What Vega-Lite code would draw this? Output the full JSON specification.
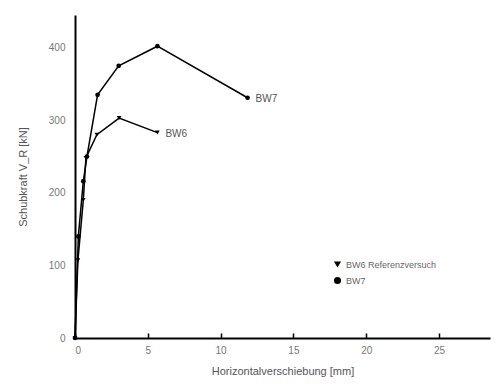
{
  "$schema": "https://vega.github.io/schema/vega-lite/v6.json",
  "autosize": "none",
  "width": 415,
  "height": 323,
  "padding": {"left": 75, "top": 15, "right": 8, "bottom": 51},
  "background": "white",
  "config": {
    "view": {"stroke": null},
    "font": "Liberation Sans",
    "axis": {"grid": false, "domainColor": "black", "domainWidth": 2, "labelColor": "#777", "titleColor": "#555", "labelFontSize": 10, "titleFontSize": 11, "titleFontWeight": "normal"}
  },
  "data": {"values": [
    {"s": "BW6 Referenzversuch", "d": 0, "v": 0, "o": 0, "lab": ""},
    {"s": "BW6 Referenzversuch", "d": 0.2, "v": 107, "o": 1, "lab": ""},
    {"s": "BW6 Referenzversuch", "d": 0.57, "v": 190, "o": 2, "lab": ""},
    {"s": "BW6 Referenzversuch", "d": 0.75, "v": 248, "o": 3, "lab": ""},
    {"s": "BW6 Referenzversuch", "d": 1.5, "v": 280, "o": 4, "lab": ""},
    {"s": "BW6 Referenzversuch", "d": 3.03, "v": 303, "o": 5, "lab": ""},
    {"s": "BW6 Referenzversuch", "d": 5.66, "v": 283, "o": 6, "lab": "BW6"},
    {"s": "BW7", "d": 0, "v": 0, "o": 0, "lab": ""},
    {"s": "BW7", "d": 0.23, "v": 140, "o": 1, "lab": ""},
    {"s": "BW7", "d": 0.57, "v": 216, "o": 2, "lab": ""},
    {"s": "BW7", "d": 0.82, "v": 250, "o": 3, "lab": ""},
    {"s": "BW7", "d": 1.55, "v": 335, "o": 4, "lab": ""},
    {"s": "BW7", "d": 3.0, "v": 375, "o": 5, "lab": ""},
    {"s": "BW7", "d": 5.66, "v": 402, "o": 6, "lab": ""},
    {"s": "BW7", "d": 11.85, "v": 331, "o": 7, "lab": "BW7"}
  ]},
  "encoding": {
    "x": {"field": "d", "type": "quantitative", "scale": {"domain": [0, 28.5], "nice": false},
      "axis": {"values": [0, 5, 10, 15, 20, 25], "tickSize": -5, "tickColor": "black", "tickWidth": 1.5, "labelPadding": 12, "title": "Horizontalverschiebung [mm]", "titlePadding": 10}},
    "y": {"field": "v", "type": "quantitative", "scale": {"domain": [0, 445], "nice": false},
      "axis": {"values": [0, 100, 200, 300, 400], "ticks": false, "labelPadding": 10, "title": "Schubkraft V_R [kN]", "titlePadding": 20}}
  },
  "layer": [
    {"mark": {"type": "line", "color": "black", "strokeWidth": 1.5},
     "encoding": {"detail": {"field": "s"}, "order": {"field": "o"}}},
    {"mark": {"type": "point", "filled": true, "color": "black", "size": 22, "opacity": 1},
     "encoding": {"shape": {"field": "s", "type": "nominal",
       "scale": {"domain": ["BW6 Referenzversuch", "BW7"], "range": ["triangle-down", "circle"]},
       "legend": {"title": null, "orient": "none", "legendX": 258, "legendY": 245, "labelColor": "#666", "labelFontSize": 9, "symbolFillColor": "black", "symbolStrokeColor": "black", "symbolSize": 50, "rowPadding": 2}}}},
    {"mark": {"type": "text", "align": "left", "dx": 8, "dy": 1, "color": "#555", "fontSize": 10},
     "encoding": {"text": {"field": "lab"}}}
  ]
}
